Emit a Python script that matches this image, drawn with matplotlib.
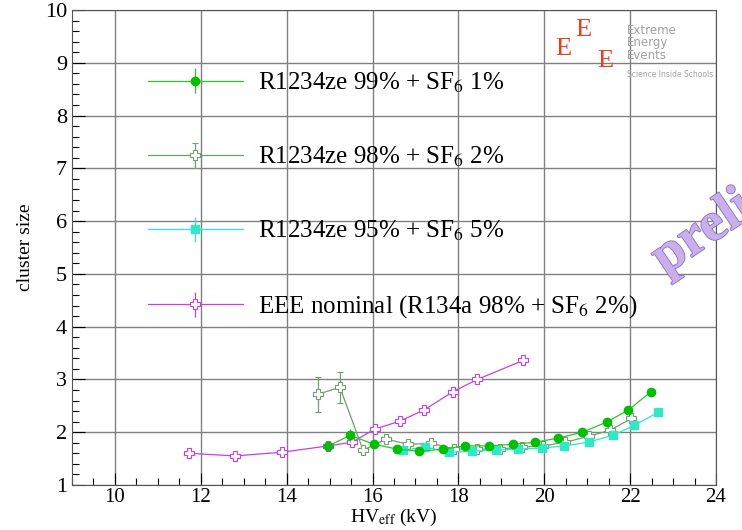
import numpy as np
import matplotlib
matplotlib.use("Agg")
import matplotlib.pyplot as plt
from matplotlib.ticker import MultipleLocator
import matplotlib.patheffects as pe

plt.rcParams['font.family'] = ['Liberation Serif', 'DejaVu Serif']
plt.rcParams['mathtext.fontset'] = 'stix'

# R1234ze 99% + SF6 1%
hv_99 = [14.97, 15.48, 16.04, 16.57, 17.09, 17.65, 18.16, 18.72, 19.28, 19.79, 20.33, 20.89, 21.45, 21.96, 22.49]
cs_99 = [1.74, 1.94, 1.77, 1.68, 1.64, 1.68, 1.74, 1.74, 1.77, 1.81, 1.89, 2.00, 2.19, 2.42, 2.77]
err_99 = [0.02, 0.12, 0.02, 0.02, 0.02, 0.02, 0.02, 0.02, 0.02, 0.02, 0.02, 0.02, 0.02, 0.02, 0.02]

# R1234ze 98% + SF6 2%
hv_98 = [14.73, 15.24, 15.78, 16.32, 16.83, 17.37, 17.90, 18.44, 18.97, 19.49, 19.98, 20.49, 21.03, 21.54, 22.03]
cs_98 = [2.72, 2.85, 1.66, 1.87, 1.77, 1.79, 1.68, 1.68, 1.68, 1.72, 1.74, 1.81, 1.92, 2.04, 2.26]
err_98 = [0.33, 0.29, 0.04, 0.04, 0.03, 0.03, 0.02, 0.02, 0.02, 0.02, 0.02, 0.02, 0.02, 0.02, 0.03]

# R1234ze 95% + SF6 5%
hv_95 = [16.71, 17.23, 17.79, 18.32, 18.88, 19.39, 19.95, 20.47, 21.03, 21.59, 22.10, 22.66]
cs_95 = [1.66, 1.72, 1.62, 1.64, 1.66, 1.68, 1.70, 1.74, 1.81, 1.94, 2.13, 2.38]

# EEE nominal
hv_eee = [11.72, 12.80, 13.89, 14.97, 15.52, 16.06, 16.64, 17.20, 17.88, 18.44, 19.51]
cs_eee = [1.60, 1.55, 1.62, 1.74, 1.81, 2.06, 2.21, 2.42, 2.77, 3.00, 3.36]

labels = [r'R1234ze 99% + SF$_{6}$ 1%',
          r'R1234ze 98% + SF$_{6}$ 2%',
          r'R1234ze 95% + SF$_{6}$ 5%',
          r'EEE nominal (R134a 98% + SF$_{6}$ 2%)']

c_99 = '#2cc42c'
c_98 = '#6f9f6f'
c_95 = '#2ee8c8'
c_eee = '#c83ee8'

fig = plt.figure(figsize=(7.42, 5.30), dpi=100)
ax = fig.add_axes([0.097, 0.085, 0.868, 0.896])

h1 = ax.errorbar(hv_99, cs_99, yerr=err_99, color=c_99, marker='o', ms=6, lw=0.9,
                 mfc='#00c000', mec='#00c000', capsize=0, label=labels[0], zorder=4)
h2 = ax.errorbar(hv_98, cs_98, yerr=err_98, color=c_98, marker='P', ms=7, lw=0.9,
                 mfc='white', mec=c_98, mew=0.8, capsize=2, label=labels[1], zorder=3)
h3 = ax.errorbar(hv_95, cs_95, yerr=0.02, color=c_95, marker='s', ms=6, lw=0.9,
                 mfc=c_95, mec=c_95, capsize=0, label=labels[2], zorder=3)
h4 = ax.errorbar(hv_eee, cs_eee, yerr=0.02, color=c_eee, marker='P', ms=7, lw=0.9,
                 mfc='white', mec=c_eee, mew=0.8, capsize=0, label=labels[3], zorder=3)

ax.set_xlim(9, 24)
ax.set_ylim(1, 10)
ax.xaxis.set_major_locator(MultipleLocator(2))
ax.xaxis.set_minor_locator(MultipleLocator(0.5))
ax.yaxis.set_major_locator(MultipleLocator(1))
ax.yaxis.set_minor_locator(MultipleLocator(0.2))
ax.tick_params(which='both', direction='in', top=False, right=False, labelsize=16)
ax.tick_params(which='major', length=9, width=0.8)
ax.tick_params(which='minor', length=5, width=0.8)
ax.tick_params(axis='x', pad=2, labelsize=15)
ax.grid(True, which='major', color='#808080', lw=1.0)
for s in ax.spines.values():
    s.set_color('#555555')

ax.set_ylabel('cluster size', fontsize=14, labelpad=8)
ax.set_xlabel(r'HV$_{\rm eff}$ (kV)', fontsize=14, labelpad=0)

leg = ax.legend(handles=[h1, h2, h3, h4], loc='upper left', bbox_to_anchor=(0.083, 0.92),
                frameon=False, fontsize=18, handlelength=3.8, labelspacing=2.0,
                handletextpad=0.6)

# logo
fig.text(0.775, 0.965, 'E', color='#e8401c', fontsize=19, ha='left', va='top')
fig.text(0.748, 0.928, 'E', color='#e8401c', fontsize=19, ha='left', va='top')
fig.text(0.805, 0.905, 'E', color='#e8401c', fontsize=19, ha='left', va='top')
fig.text(0.845, 0.955, 'Extreme\nEnergy\nEvents', color='#a0a0a0', fontsize=8.5, family='DejaVu Sans',
         ha='left', va='top', linespacing=0.95)
fig.text(0.845, 0.868, 'Science Inside Schools', color='#a0a0a0', fontsize=5.5, family='DejaVu Sans',
         ha='left', va='top')

# watermark (cut by the figure edge as in the original)
fig.text(0.866, 0.462, 'preliminary', color='#c8b0ec', fontsize=40, fontweight='bold',
         rotation=34, ha='left', va='bottom',
         path_effects=[pe.withStroke(linewidth=1.2, foreground='#8a6cc0')])

fig.savefig('out.png', dpi=100)
